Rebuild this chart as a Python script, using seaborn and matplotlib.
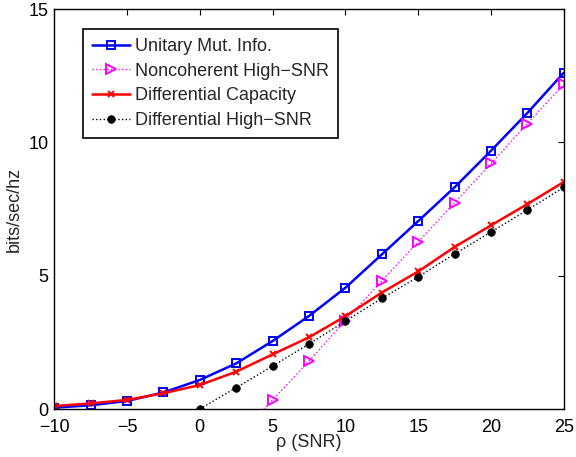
import numpy as np
import pandas as pd
import seaborn as sns
import matplotlib
matplotlib.use("Agg")
import matplotlib.pyplot as plt

# values
snr = [-10, -7.5, -5, -2.5, 0, 2.5, 5, 7.5, 10, 12.5, 15, 17.5, 20, 22.5, 25]
unitary_mi = [0.05, 0.14, 0.30, 0.62, 1.09, 1.71, 2.55, 3.49, 4.55, 5.80, 7.05, 8.32, 9.69, 11.11, 12.62]
diff_capacity = [0.11, 0.21, 0.34, 0.59, 0.90, 1.40, 2.05, 2.69, 3.48, 4.37, 5.16, 6.08, 6.89, 7.69, 8.52]

snr_nc = [2.5, 5, 7.5, 10, 12.5, 15, 17.5, 20, 22.5, 25]
noncoh_high = [-1.13, 0.34, 1.80, 3.32, 4.81, 6.27, 7.74, 9.21, 10.71, 12.19]

snr_diff = [0, 2.5, 5, 7.5, 10, 12.5, 15, 17.5, 20, 22.5, 25]
diff_high = [0.0, 0.80, 1.61, 2.44, 3.30, 4.15, 4.96, 5.82, 6.64, 7.47, 8.32]

labels = ["Unitary Mut. Info.", "Noncoherent High\u2212SNR",
          "Differential Capacity", "Differential High\u2212SNR"]

sns.set_style("white")
plt.rcParams['font.family'] = ['Liberation Sans', 'DejaVu Sans']
plt.rcParams['font.size'] = 13

fig = plt.figure(figsize=(5.76, 4.57), dpi=100)
ax = fig.add_axes([0.094, 0.105, 0.885, 0.875])

sns.lineplot(x=snr, y=unitary_mi, ax=ax, color="#0000ff", lw=1.8,
             marker="s", ms=5.5, markerfacecolor="none", markeredgecolor="#0000ff",
             markeredgewidth=1.4, label=labels[0], estimator=None)
sns.lineplot(x=snr_nc, y=noncoh_high, ax=ax, color="#ff00ff", lw=1.0, linestyle=":",
             marker=">", ms=7.5, markerfacecolor="none", markeredgecolor="#ff00ff",
             markeredgewidth=1.4, label=labels[1], estimator=None)
sns.lineplot(x=snr, y=diff_capacity, ax=ax, color="#ff0000", lw=1.8,
             marker="x", ms=4.5, markeredgecolor="#ff0000",
             markeredgewidth=1.4, label=labels[2], estimator=None)
sns.lineplot(x=snr_diff, y=diff_high, ax=ax, color="black", lw=1.0, linestyle=":",
             marker="o", ms=5.5, markerfacecolor="black", markeredgecolor="black",
             markeredgewidth=0.5, label=labels[3], estimator=None)

ax.set_xlim(-10, 25)
ax.set_ylim(0, 15)
ax.set_xticks([-10, -5, 0, 5, 10, 15, 20, 25])
ax.set_yticks([0, 5, 10, 15])
ax.tick_params(direction="in", length=4, width=0.8, top=True, right=True,
               labelsize=13, colors="black")
ax.tick_params(axis="x", pad=7)
ax.tick_params(axis="y", pad=4)
for sp in ax.spines.values():
    sp.set_color("black")
    sp.set_linewidth(1.0)

ax.set_xlabel("\u03c1 (SNR)", fontsize=13, labelpad=-1)
ax.set_ylabel("bits/sec/hz", fontsize=13, labelpad=4)

leg = ax.legend(loc="upper left", bbox_to_anchor=(0.056, 0.95), borderaxespad=0,
                fontsize=13, frameon=True, fancybox=False, handlelength=2.1,
                handletextpad=0.3, labelspacing=0.42, borderpad=0.5)
leg.get_frame().set_edgecolor("black")
leg.get_frame().set_linewidth(1.2)
leg.get_frame().set_alpha(1)

fig.savefig("out.png", dpi=100)
